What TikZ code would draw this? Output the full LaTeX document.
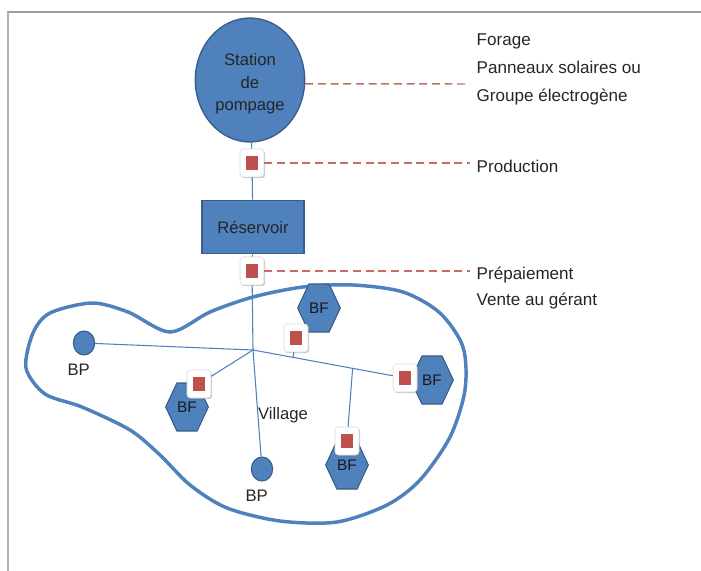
\documentclass[tikz,border=0pt]{standalone}
\usepackage{fontspec}
\setmainfont{Liberation Sans}
\usetikzlibrary{shapes.geometric,shapes.symbols,shadows}
\definecolor{ofblue}{HTML}{4F81BD}
\definecolor{ofborder}{HTML}{385D8A}
\definecolor{ofred}{HTML}{C0504D}
\definecolor{txt}{HTML}{262626}
\newcommand{\redsq}{\textcolor{ofred}{\rule{9.5pt}{10.5pt}}}

\begin{document}
\begin{tikzpicture}
    [x=0.75pt,y=-0.75pt,
     pipe/.style={ofblue,line width=0.8pt},
     tag/.style={ofred!85,line width=1.1pt,dash pattern=on 6pt off 3.5pt},
     meter/.style={draw=black!15,fill=white,rounded corners=2.5pt,minimum width=18pt,
       minimum height=21pt,inner sep=0pt,
       drop shadow={shadow xshift=0.9pt,shadow yshift=-0.9pt,opacity=0.45}},
     fountain/.style={signal,signal to=east and west,signal pointer angle=130,fill=ofblue,
       draw=ofborder,line width=0.8pt,minimum width=32pt,minimum height=36pt,inner sep=0pt,
       font=\fontsize{11.5}{13}\selectfont,text=black!90},
     pump/.style={ellipse,fill=ofblue,draw=ofborder,line width=0.8pt,minimum width=16pt,
       minimum height=18pt,inner sep=0pt},
     note/.style={anchor=west,align=left,text=txt},
     every label/.style={text=txt,font=\fontsize{12.5}{14}\selectfont}]
    \useasboundingbox (0,0) rectangle (701,571);
    % frame
    \draw [gray!75,line width=1.6pt] (7,12) -- (701,12);
    \draw [gray!60,line width=0.8pt] (8,12) -- (8,571);
    % village
    \draw [ofblue,line width=2.6pt] plot [smooth cycle] coordinates {
      (26,368) (33,333) (50,313) (92,303) (128,312) (170,332) (210,312) (253,297)
      (303,287) (353,285) (403,292) (440,313) (463,347) (465,390) (450,437) (420,480)
      (387,505) (337,522) (280,521) (227,508) (190,485) (160,455) (130,430) (82,407)
      (45,394)};
    \node [ellipse,fill=ofblue,draw=ofborder,line width=1pt,minimum width=82pt,
      minimum height=93pt,inner sep=0pt,
      label={[align=center,text=txt,yshift=-3pt,font=\fontsize{12.5}{17}\selectfont]center:Station\\de\\pompage}]
      (station) at (250,80) {};
    \node [meter] (m1) at (252,163) {\redsq}
      edge [pipe] (station);
    \node [rectangle,fill=ofblue,draw=ofborder,line width=1pt,minimum width=76.5pt,
      minimum height=40pt,text=txt,font=\fontsize{12.5}{15}\selectfont]
      (res) at (253,227) {Réservoir}
      edge [pipe] (m1);
    \node [meter] (m2) at (252,271) {\redsq}
      edge [pipe] (res);
    \coordinate (hub) at (253,350);
    \draw [pipe] (m2) -- (hub);
    \node [pump] (bp1) [label={[label distance=3pt,xshift=-4pt]below:BP}] at (84,343) {}
      edge [pipe] (hub);
    \node [pump] (bp2) [label={[label distance=3pt,xshift=-4pt]below:BP}] at (262,469) {}
      edge [pipe] (hub);
    \node [fountain] (bfL) at (187,407) {BF};
    \node [meter] (mL) at (199,384) {\redsq}
      edge [pipe] (hub);
    \node [fountain] (bfR) at (432,380) {BF};
    \node [meter] (mR) at (405,378) {\redsq};
    \draw [pipe] (hub) -- coordinate [pos=0.287] (j1) coordinate [pos=0.713] (j2) (mR);
    \node [fountain] (bfT) at (319,308) {BF};
    \node [meter] (mT) at (296,338) {\redsq}
      edge [pipe] (j1);
    \node [fountain] (bfB) at (347,465) {BF};
    \node [meter] (mB) at (347,441) {\redsq}
      edge [pipe] (j2);
    \node [text=txt,font=\fontsize{12.5}{14}\selectfont] (village) at (283,415) {Village};
    % legend
    \coordinate (d1) at (470,84);
    \coordinate (d2) at (470,163);
    \coordinate (d3) at (470,271);
    \draw [tag] (station.-4) -- (d1);
    \draw [tag] (m1) -- (d2);
    \draw [tag] (m2) -- (d3);
    \node [note,font=\fontsize{12.8}{21}\selectfont] (src) at (472,69)
      {Forage\\Panneaux solaires ou\\Groupe électrogène};
    \node [note,font=\fontsize{12.8}{15}\selectfont] (prod) at (472,166) {Production};
    \node [note,font=\fontsize{12.8}{19}\selectfont] (pay) at (472,288)
      {Prépaiement\\Vente au gérant};
\end{tikzpicture}
\end{document}
